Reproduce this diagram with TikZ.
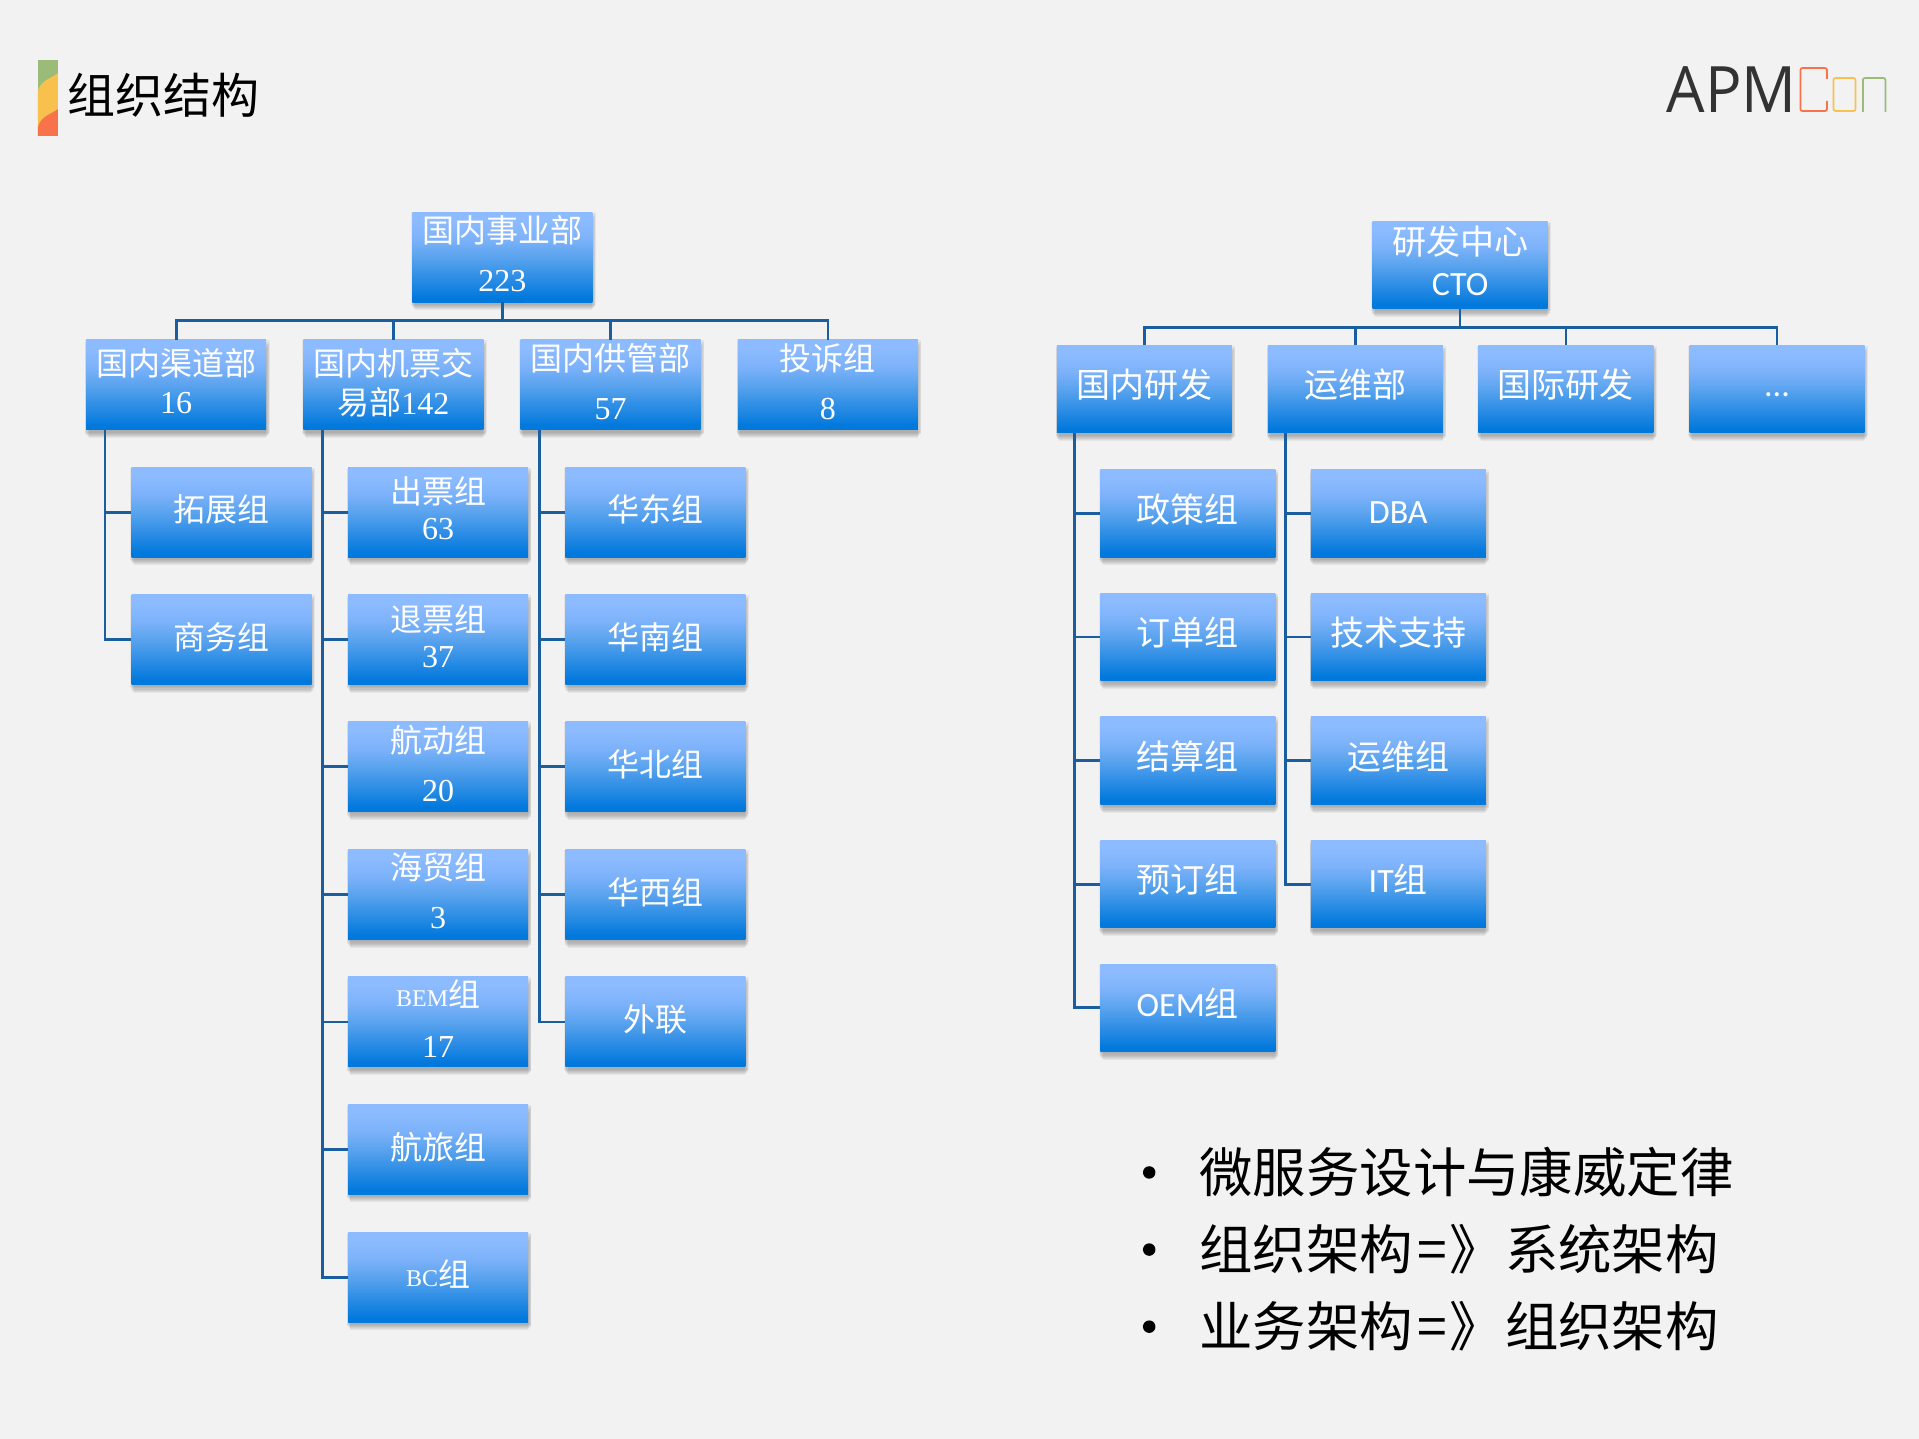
\documentclass[tikz,border=0pt]{standalone}
\usepackage{fontspec}
\usetikzlibrary{shadows}
\setmainfont{Liberation Serif}
\newfontfamily\cjkfont{Noto Sans CJK SC}
\newfontfamily\latfont{Carlito}
\newfontfamily\numfont{Liberation Serif}
\newfontfamily\logofont{Open Sans}
\definecolor{pagebg}{HTML}{F2F2F2}
\definecolor{boxtop}{HTML}{8CBBFF}
\definecolor{boxhigh}{HTML}{7CB2FA}
\definecolor{boxmid}{HTML}{5AA3EE}
\definecolor{boxlow}{HTML}{0078DC}
\definecolor{linkblue}{HTML}{1A5E9F}
\definecolor{barred}{HTML}{F8734C}
\definecolor{baryellow}{HTML}{F8C04C}
\definecolor{bargreen}{HTML}{9BBB78}
\pgfdeclareverticalshading{boxfill}{100bp}{color(0bp)=(boxlow); color(27bp)=(boxlow); color(50bp)=(boxmid); color(60bp)=(boxhigh); color(70bp)=(boxtop); color(100bp)=(boxtop)}
\tikzset{
    softlayer/.style 2 args={drop shadow={shadow xshift=1pt,shadow yshift=-#1pt,shadow scale=#2,opacity=.05,fill=black}},
    box/.style={shading=boxfill,text=white,inner sep=0pt,align=center,softlayer={9}{.985},softlayer={7.5}{.995},softlayer={6}{1.005},softlayer={4.5}{1.015},softlayer={3}{1.02},softlayer={1.5}{1.025}},
    boxl/.style={box,minimum width=180pt,minimum height=90pt,font=\fontsize{32}{38}\selectfont\cjkfont},
    boxr/.style={box,minimum width=175pt,minimum height=87.5pt,font=\fontsize{34}{42}\selectfont\cjkfont},
    liftcjk/.style={execute at end node={\rule[-7.5pt]{0pt}{7.5pt}}},
    liftnum/.style={execute at end node={\rule[-7.5pt]{0pt}{7.5pt}}},
    liftrcjk/.style={execute at end node={\rule[-11.5pt]{0pt}{11.5pt}}},
    liftrnum/.style={execute at end node={\rule[-8.5pt]{0pt}{8.5pt}}},
    link/.style={draw=linkblue,line width=2.8pt},
    bigtext/.style={anchor=west,inner sep=0pt,font=\fontsize{53.4}{60}\selectfont\cjkfont},
    dot/.style={circle,fill=black,inner sep=0pt,minimum size=12.5pt},
}
\newcommand{\midgap}{\hspace{4pt}=\hspace{3pt}》\hspace{2pt}}
\begin{document}
\begin{tikzpicture}[x=1.2239pt,y=-1.2239pt]
\path[use as bounding box,fill=pagebg] (0,0) rectangle (1568,1175.8);

\begin{scope}[x=1pt,y=-1pt]
\fill[bargreen] (38,60) rectangle (58,95);
\fill[baryellow] (38,90) .. controls (42,80) and (50,79) .. (58,73) -- (58,115) -- (38,130) -- cycle;
\fill[barred] (38,127) .. controls (41,116) and (50,115) .. (58,109) -- (58,136) -- (38,136) -- cycle;
\draw[draw=barred,line width=1.7pt,rounded corners=2pt] (1827,79) -- (1827,68) -- (1800.5,68) -- (1800.5,111) -- (1827,111) -- (1827,101);
\draw[draw=baryellow,line width=1.7pt,rounded corners=2pt] (1833.5,78) rectangle (1855.5,111);
\draw[draw=bargreen,line width=1.7pt,rounded corners=2pt] (1863,112) -- (1863,78) -- (1885.5,78) -- (1885.5,112);
\node[anchor=east,inner sep=0pt,text=black!80,xscale=.95,font=\fontsize{64}{64}\selectfont\logofont] (logo) at (1797,90) {APM};
\end{scope}
\node[anchor=west,inner sep=0pt,font=\fontsize{48}{54}\selectfont\cjkfont] (title) at (55,78) {组织结构};

\node[boxl,liftnum] (gnsy) at (410.5,210) {国内事业部\\[11pt]{\numfont 223}};
\node[boxl,liftnum] (qd) at (144,314.5) {国内渠道部\\[0pt]{\numfont 16}};
\node[boxl,liftcjk] (jp) at (321.5,314.5) {国内机票交\\[1pt]易部{\numfont 142}};
\node[boxl,liftnum] (gg) at (499,314.5) {国内供管部\\[11pt]{\numfont 57}};
\node[boxl,liftnum] (ts) at (676.5,314.5) {投诉组\\[11pt]{\numfont 8}};

\node[boxl,liftcjk] (tz) at (181,418.5) {拓展组};
\node[boxl,liftcjk] (sw) at (181,522.5) {商务组};

\node[boxl,liftnum] (cp) at (358,418.5) {出票组\\[-2pt]{\numfont 63}};
\node[boxl,liftnum] (tp) at (358,522.5) {退票组\\[-2pt]{\numfont 37}};
\node[boxl,liftnum] (hd) at (358,626.5) {航动组\\[11pt]{\numfont 20}};
\node[boxl,liftnum] (hm) at (358,731) {海贸组\\[11pt]{\numfont 3}};
\node[boxl,liftnum] (bem) at (358,835) {{\numfont\fontsize{24}{38}\selectfont BEM}组\\[13pt]{\numfont 17}};
\node[boxl,liftcjk] (hl) at (358,939) {航旅组};
\node[boxl,liftcjk] (bc) at (358,1043.5) {{\numfont\fontsize{24}{38}\selectfont BC}组};

\node[boxl,liftcjk] (hdong) at (535.5,418.5) {华东组};
\node[boxl,liftcjk] (hnan) at (535.5,522.5) {华南组};
\node[boxl,liftcjk] (hbei) at (535.5,626.5) {华北组};
\node[boxl,liftcjk] (hxi) at (535.5,731) {华西组};
\node[boxl,liftcjk] (wl) at (535.5,835) {外联};

\draw[link] (gnsy.south) -- ++(0,15) -| (qd.north);
\draw[link] (gnsy.south) -- ++(0,15) -| (jp.north);
\draw[link] (gnsy.south) -- ++(0,15) -| (gg.north);
\draw[link] (gnsy.south) -- ++(0,15) -| (ts.north);

\draw[link] ([xshift=19pt]qd.south west) |- (tz.west);
\draw[link] ([xshift=19pt]qd.south west) |- (sw.west);

\draw[link] ([xshift=19pt]jp.south west) |- (cp.west);
\draw[link] ([xshift=19pt]jp.south west) |- (tp.west);
\draw[link] ([xshift=19pt]jp.south west) |- (hd.west);
\draw[link] ([xshift=19pt]jp.south west) |- (hm.west);
\draw[link] ([xshift=19pt]jp.south west) |- (bem.west);
\draw[link] ([xshift=19pt]jp.south west) |- (hl.west);
\draw[link] ([xshift=19pt]jp.south west) |- (bc.west);

\draw[link] ([xshift=19pt]gg.south west) |- (hdong.west);
\draw[link] ([xshift=19pt]gg.south west) |- (hnan.west);
\draw[link] ([xshift=19pt]gg.south west) |- (hbei.west);
\draw[link] ([xshift=19pt]gg.south west) |- (hxi.west);
\draw[link] ([xshift=19pt]gg.south west) |- (wl.west);

\node[boxr,liftrnum] (yf) at (1193,216.5) {研发中心\\[-1pt]{\latfont CTO}};
\node[boxr,liftrcjk] (gnyf) at (935,318) {国内研发};
\node[boxr,liftrcjk] (yw) at (1107.5,318) {运维部};
\node[boxr,liftrcjk] (gjyf) at (1279.5,318) {国际研发};
\node[boxr] (more) at (1452,318) {\latfont\rule{0pt}{14pt}...};

\node[boxr,liftrcjk] (zc) at (970.5,419.5) {政策组};
\node[boxr,liftrcjk] (dd) at (970.5,520.5) {订单组};
\node[boxr,liftrcjk] (js) at (970.5,621.5) {结算组};
\node[boxr,liftrcjk] (yd) at (970.5,722.5) {预订组};
\node[boxr,liftrcjk] (oem) at (970.5,823.5) {{\latfont OEM}组};

\node[boxr] (dba) at (1142.5,419.5) {\latfont DBA\rule[-2.5pt]{0pt}{2.5pt}};
\node[boxr,liftrcjk] (jszc) at (1142.5,520.5) {技术支持};
\node[boxr,liftrcjk] (ywz) at (1142.5,621.5) {运维组};
\node[boxr,liftrcjk] (it) at (1142.5,722.5) {{\latfont IT}组};

\draw[link] (yf.south) -- ++(0,15) -| (gnyf.north);
\draw[link] (yf.south) -- ++(0,15) -| (yw.north);
\draw[link] (yf.south) -- ++(0,15) -| (gjyf.north);
\draw[link] (yf.south) -- ++(0,15) -| (more.north);

\draw[link] ([xshift=18pt]gnyf.south west) |- (zc.west);
\draw[link] ([xshift=18pt]gnyf.south west) |- (dd.west);
\draw[link] ([xshift=18pt]gnyf.south west) |- (js.west);
\draw[link] ([xshift=18pt]gnyf.south west) |- (yd.west);
\draw[link] ([xshift=18pt]gnyf.south west) |- (oem.west);

\draw[link] ([xshift=18pt]yw.south west) |- (dba.west);
\draw[link] ([xshift=18pt]yw.south west) |- (jszc.west);
\draw[link] ([xshift=18pt]yw.south west) |- (ywz.west);
\draw[link] ([xshift=18pt]yw.south west) |- (it.west);

\node[dot] (dot1) at (939,958) {};
\node[dot] (dot2) at (939,1021) {};
\node[dot] (dot3) at (939,1084) {};
\node[bigtext] (line1) at (980,958) {微服务设计与康威定律};
\node[bigtext] (line2) at (980,1021) {组织架构\midgap 系统架构};
\node[bigtext] (line3) at (980,1084) {业务架构\midgap 组织架构};
\end{tikzpicture}
\end{document}
